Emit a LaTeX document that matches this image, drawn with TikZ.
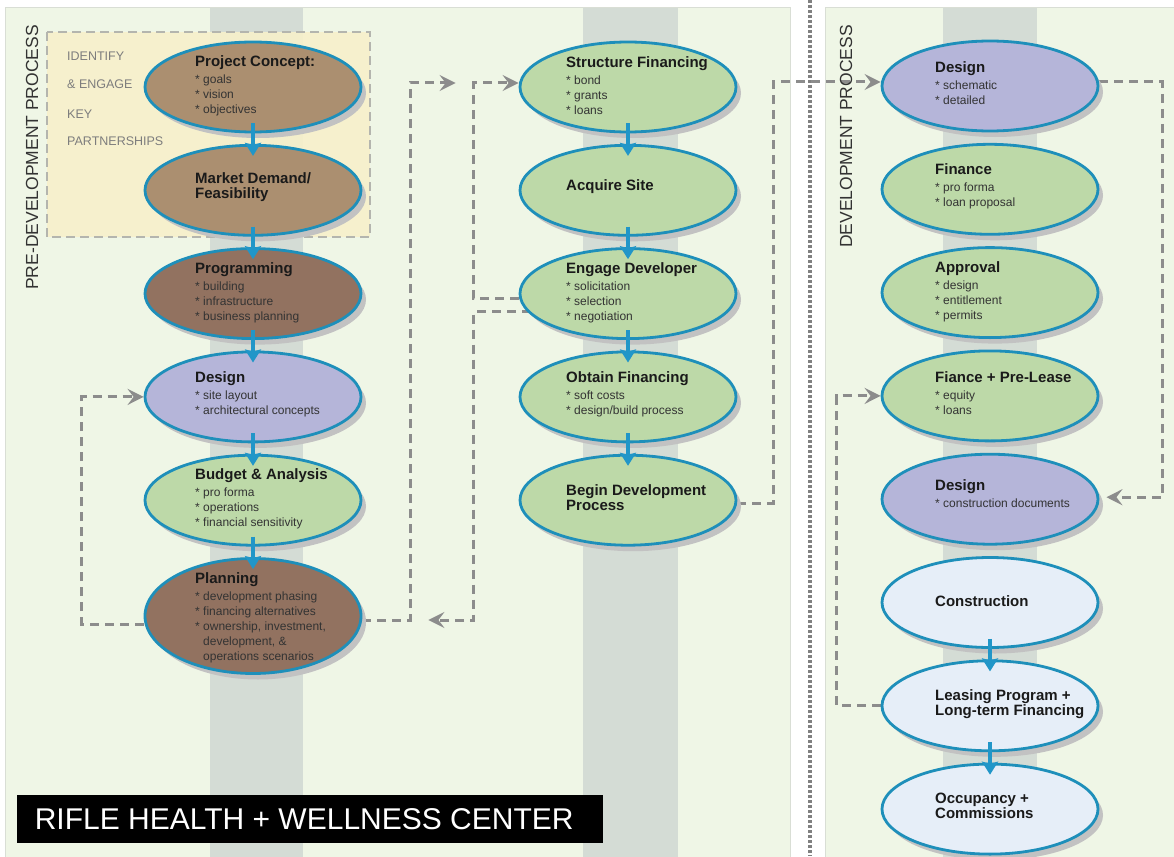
\documentclass[tikz,border=0pt]{standalone}
\usepackage{fontspec}
\setmainfont{Liberation Sans}
\usetikzlibrary{positioning, arrows.meta, shapes.geometric, shadows}

\definecolor{panelbg}{HTML}{EFF6E6}
\definecolor{panelrim}{HTML}{D9DED5}
\definecolor{stripgray}{HTML}{D4DCD5}
\definecolor{partnerfill}{HTML}{F7F0CB}
\definecolor{partnerrim}{HTML}{B4B5AE}
\definecolor{tan}{HTML}{AB8F70}
\definecolor{umber}{HTML}{927260}
\definecolor{lavender}{HTML}{B5B5D9}
\definecolor{sage}{HTML}{BDD9A8}
\definecolor{ice}{HTML}{E6EEF8}
\definecolor{rimblue}{HTML}{1E8FBA}
\definecolor{flowblue}{HTML}{2196C8}
\definecolor{dashgray}{HTML}{8C8C8C}
\definecolor{titleink}{HTML}{1A1A1A}
\definecolor{bulletink}{HTML}{333333}
\definecolor{partnerink}{HTML}{7D7D7D}

\pgfdeclarelayer{panels}
\pgfdeclarelayer{links}
\pgfsetlayers{panels,links,main}

\newcommand{\stagetitle}[1]{{\fontsize{15}{15}\selectfont\bfseries\color{titleink}#1}}

\begin{document}
\begin{tikzpicture}[
    x=1pt, y=-1pt,
    node distance=10.5pt,
    stage/.style={ellipse, draw=rimblue, line width=2.8pt, minimum width=216pt, minimum height=90pt, inner sep=0pt,
        drop shadow={shadow xshift=5pt, shadow yshift=-6pt, fill=black!24, opacity=1}},
    stagetxt/.style={anchor=west, align=left, inner sep=0pt, text=bulletink, font=\fontsize{12}{15}\selectfont},
    flow/.style={-{Stealth[length=13pt, width=16pt, inset=2pt]}, draw=flowblue, line width=3.2pt},
    loopline/.style={-{Stealth[length=16pt, width=16pt, inset=6pt]}, draw=dashgray, line width=3pt, dash pattern=on 9pt off 6pt},
    side/.style={font=\fontsize{17.5}{17.5}\selectfont, text=bulletink, rotate=90, anchor=east, inner sep=0pt},
    partner/.style={font=\fontsize{12.5}{12.5}\selectfont, text=partnerink, anchor=base west, inner sep=0pt}
]
\useasboundingbox (0,0) rectangle (1174,856);

% Backgrounds
\begin{pgfonlayer}{panels}
\fill[white] (0,0) rectangle (1174,856);
\draw[panelrim, fill=panelbg, line width=1pt] (5,8) rectangle (790,862);
\draw[panelrim, fill=panelbg, line width=1pt] (825,8) rectangle (1180,862);
\fill[stripgray] (210,8.5) rectangle (303,862);
\fill[stripgray] (583,8.5) rectangle (678,862);
\fill[stripgray] (943,8.5) rectangle (1037,862);
\draw[black!50, line width=3.5pt, dash pattern=on 3pt off 2pt] (810,0) -- (810,856);
\draw[partnerrim, fill=partnerfill, fill opacity=0.9, line width=2.5pt, dash pattern=on 9pt off 5pt] (47,32) rectangle (370,237);
\end{pgfonlayer}

% Side headings
\node[side] (predev) at (32,25) {PRE-DEVELOPMENT PROCESS};
\node[side] (dev) at (846,25) {DEVELOPMENT PROCESS};

% Partnerships
\node[partner] (identify) at (67,61) {IDENTIFY};
\node[partner] (engagekey) at (67,89) {\& ENGAGE};
\node[partner] (key) at (67,118) {KEY};
\node[partner] (partnerships) at (67,146) {PARTNERSHIPS};

% Pre-development column
\node[stage, fill=tan] (concept) at (253,87) {};
\node[stage, fill=tan, below=of concept] (market) {};
\node[stage, fill=umber, below=of market] (program) {};
\node[stage, fill=lavender, below=of program] (design1) {};
\node[stage, fill=sage, below=of design1] (budget) {};
\node[stage, fill=umber, minimum height=115pt, below=of budget] (planning) {};

\node[stagetxt] (concept-t) at ([xshift=-58pt, yshift=1pt]concept.center) {\stagetitle{Project Concept:}\\[2pt] * goals\\ * vision\\ * objectives};
\node[stagetxt] (market-t) at ([xshift=-58pt, yshift=3pt]market.center) {\stagetitle{Market Demand/}\\ \stagetitle{Feasibility}};
\node[stagetxt] (program-t) at ([xshift=-58pt, yshift=1pt]program.center) {\stagetitle{Programming}\\[2pt] * building\\ * infrastructure\\ * business planning};
\node[stagetxt] (design1-t) at ([xshift=-58pt, yshift=3pt]design1.center) {\stagetitle{Design}\\[2pt] * site layout\\ * architectural concepts};
\node[stagetxt] (budget-t) at ([xshift=-58pt, yshift=1pt]budget.center) {\stagetitle{Budget \& Analysis}\\[2pt] * pro forma\\ * operations\\ * financial sensitivity};
\node[stagetxt] (planning-t) at ([xshift=-58pt, yshift=-2pt]planning.center) {\stagetitle{Planning}\\[2pt] * development phasing\\ * financing alternatives\\ * ownership, investment,\\ \hspace*{8pt}development, \&\\ \hspace*{8pt}operations scenarios};

% Financing column
\node[stage, fill=sage] (struct) at (628,87) {};
\node[stage, fill=sage, below=of struct] (acquire) {};
\node[stage, fill=sage, below=of acquire] (engage) {};
\node[stage, fill=sage, below=of engage] (obtain) {};
\node[stage, fill=sage, below=of obtain] (begin) {};

\node[stagetxt] (struct-t) at ([xshift=-62pt, yshift=1pt]struct.center) {\stagetitle{Structure Financing}\\[2pt] * bond\\ * grants\\ * loans};
\node[stagetxt] (acquire-t) at ([xshift=-62pt, yshift=4pt]acquire.center) {\stagetitle{Acquire Site}};
\node[stagetxt] (engage-t) at ([xshift=-62pt, yshift=1pt]engage.center) {\stagetitle{Engage Developer}\\[2pt] * solicitation\\ * selection\\ * negotiation};
\node[stagetxt] (obtain-t) at ([xshift=-62pt, yshift=3pt]obtain.center) {\stagetitle{Obtain Financing}\\[2pt] * soft costs\\ * design/build process};
\node[stagetxt] (begin-t) at ([xshift=-62pt, yshift=3pt]begin.center) {\stagetitle{Begin Development}\\ \stagetitle{Process}};

% Development column
\node[stage, fill=lavender] (design2) at (990,86) {};
\node[stage, fill=sage, below=of design2] (finance) {};
\node[stage, fill=sage, below=of finance] (approval) {};
\node[stage, fill=sage, below=of approval] (prelease) {};
\node[stage, fill=lavender, below=of prelease] (design3) {};
\node[stage, fill=ice, below=of design3] (construct) {};
\node[stage, fill=ice, below=of construct] (leasing) {};
\node[stage, fill=ice, below=of leasing] (occupancy) {};

\node[stagetxt] (design2-t) at ([xshift=-55pt, yshift=3pt]design2.center) {\stagetitle{Design}\\[2pt] * schematic\\ * detailed};
\node[stagetxt] (finance-t) at ([xshift=-55pt, yshift=3pt]finance.center) {\stagetitle{Finance}\\[2pt] * pro forma\\ * loan proposal};
\node[stagetxt] (approval-t) at ([xshift=-55pt, yshift=1pt]approval.center) {\stagetitle{Approval}\\[2pt] * design\\ * entitlement\\ * permits};
\node[stagetxt] (prelease-t) at ([xshift=-55pt, yshift=3pt]prelease.center) {\stagetitle{Fiance + Pre-Lease}\\[2pt] * equity\\ * loans};
\node[stagetxt] (design3-t) at ([xshift=-55pt, yshift=6pt]design3.center) {\stagetitle{Design}\\[2pt] * construction documents};
\node[stagetxt] (construct-t) at ([xshift=-55pt, yshift=1pt]construct.center) {\stagetitle{Construction}};
\node[stagetxt] (leasing-t) at ([xshift=-55pt, yshift=2pt]leasing.center) {\stagetitle{Leasing Program +}\\ \stagetitle{Long-term Financing}};
\node[stagetxt] (occupancy-t) at ([xshift=-55pt, yshift=3pt]occupancy.center) {\stagetitle{Occupancy +}\\ \stagetitle{Commissions}};

% Title
\node[fill=black, text=white, minimum width=586pt, minimum height=48pt, anchor=north west, inner sep=0pt,
    font=\fontsize{30}{30}\selectfont] (title) at (17,795) {RIFLE HEALTH + WELLNESS CENTER\hspace*{12pt}};

% Sequence arrows
\draw[flow] ([yshift=10pt]concept.south) -- ([yshift=-12pt]market.north);
\draw[flow] ([yshift=10pt]market.south) -- ([yshift=-12pt]program.north);
\draw[flow] ([yshift=10pt]program.south) -- ([yshift=-12pt]design1.north);
\draw[flow] ([yshift=10pt]design1.south) -- ([yshift=-12pt]budget.north);
\draw[flow] ([yshift=10pt]budget.south) -- ([yshift=-12pt]planning.north);
\draw[flow] ([yshift=10pt]struct.south) -- ([yshift=-12pt]acquire.north);
\draw[flow] ([yshift=10pt]acquire.south) -- ([yshift=-12pt]engage.north);
\draw[flow] ([yshift=10pt]engage.south) -- ([yshift=-12pt]obtain.north);
\draw[flow] ([yshift=10pt]obtain.south) -- ([yshift=-12pt]begin.north);
\draw[flow] ([yshift=10pt]construct.south) -- ([yshift=-12pt]leasing.north);
\draw[flow] ([yshift=10pt]leasing.south) -- ([yshift=-12pt]occupancy.north);

% Feedback loops
\coordinate (fwdtip) at ([xshift=-63pt, yshift=4pt]struct.west);
\coordinate (backtip) at ([xshift=66pt, yshift=-4pt]planning.east);
\begin{pgfonlayer}{links}
\draw[loopline] ([yshift=-8pt]planning.west) -| ([xshift=-62pt]design1.west) -- (design1.west);
\draw[loopline] ([yshift=-4pt]planning.east) -- ++(48,0) |- (fwdtip);
\draw[loopline] ([yshift=-5pt]engage.west) -- ++(-45,0) |- ([yshift=4pt]struct.west);
\draw[loopline] ([xshift=12pt, yshift=-18pt]engage.west) -- ++(-57,0) |- (backtip);
\draw[loopline] ([yshift=-3pt]begin.east) -- ++(36,0) |- ([yshift=4pt]design2.west);
\draw[loopline] ([yshift=4pt]design2.east) -- ++(63,0) |- ([xshift=7pt, yshift=2pt]design3.east);
\draw[loopline] (leasing.west) -- ++(-44,0) |- (prelease.west);
\end{pgfonlayer}
\end{tikzpicture}
\end{document}
